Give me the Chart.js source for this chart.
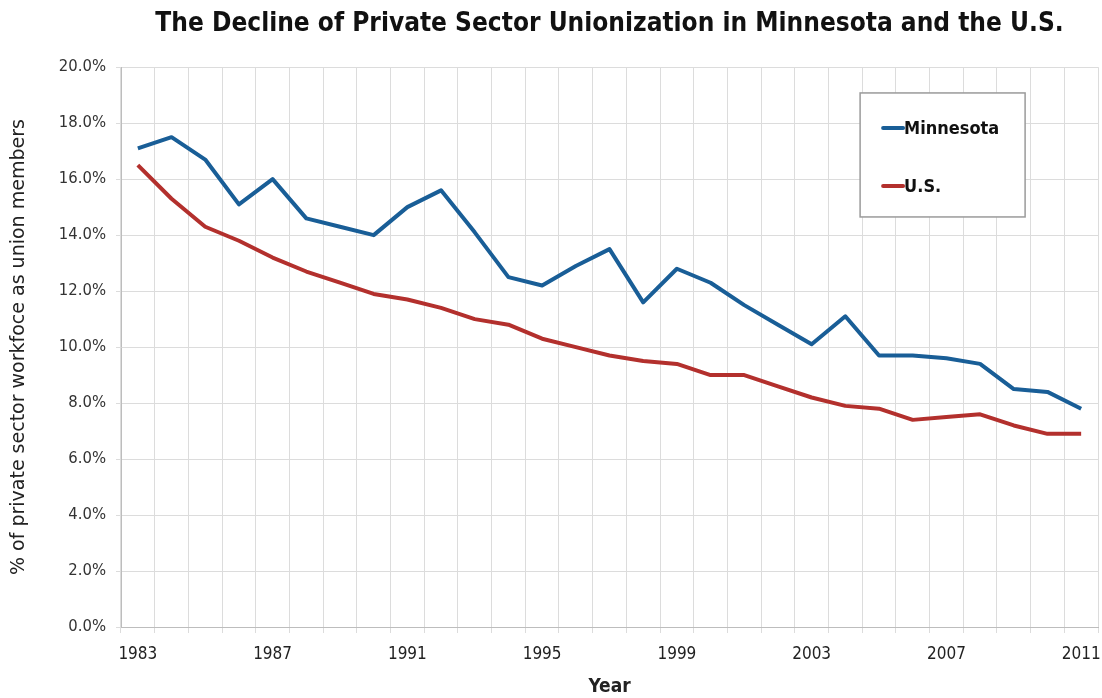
<!DOCTYPE html>
<html>
<head>
<meta charset="utf-8">
<script src="https://cdn.jsdelivr.net/npm/chart.js@4"></script>
<style>
  html, body { margin: 0; padding: 0; background: #fff; }
  #wrap { width: 1102px; height: 698px; }
</style>
</head>
<body>
<div id="wrap"><canvas id="unionChart"></canvas></div>
<script>
'use strict';

const years = ['1983', '1984', '1985', '1986', '1987', '1988', '1989', '1990', '1991', '1992',
	'1993', '1994', '1995', '1996', '1997', '1998', '1999', '2000', '2001', '2002',
	'2003', '2004', '2005', '2006', '2007', '2008', '2009', '2010', '2011'];
const minnesota = [17.1, 17.5, 16.7, 15.1, 16.0, 14.6, 14.3, 14.0, 15.0, 15.6,
	14.1, 12.5, 12.2, 12.9, 13.5, 11.6, 12.8, 12.3, 11.5, 10.8,
	10.1, 11.1, 9.7, 9.7, 9.6, 9.4, 8.5, 8.4, 7.8];
const us = [16.5, 15.3, 14.3, 13.8, 13.2, 12.7, 12.3, 11.9, 11.7, 11.4,
	11.0, 10.8, 10.3, 10.0, 9.7, 9.5, 9.4, 9.0, 9.0, 8.6,
	8.2, 7.9, 7.8, 7.4, 7.5, 7.6, 7.2, 6.9, 6.9];

const FONT = "'DejaVu Sans Condensed', 'DejaVu Sans', sans-serif";
const WIDE = "'DejaVu Sans', sans-serif";

// legend drawn inside the plot, as a framed box top right
const boxLegend = {
	id: 'boxLegend',
	afterDatasetsDraw(chart) {
		const { ctx, chartArea: a } = chart;
		const w = a.right - a.left;
		const h = a.bottom - a.top;
		const x = a.left + w * 0.7565;
		const y = a.top + h * 0.046;
		ctx.save();
		ctx.fillStyle = '#fff';
		ctx.fillRect(x, y, 165, 124);
		ctx.strokeStyle = '#9a9a9a';
		ctx.lineWidth = 1.5;
		ctx.strokeRect(x, y, 165, 124);
		ctx.font = 'bold 18px ' + FONT;
		ctx.textBaseline = 'middle';
		chart.data.datasets.forEach((ds, i) => {
			const ly = y + 35 + i * 58;
			ctx.strokeStyle = ds.borderColor;
			ctx.lineWidth = 4;
			ctx.lineCap = 'round';
			ctx.beginPath();
			ctx.moveTo(x + 23, ly);
			ctx.lineTo(x + 43, ly);
			ctx.stroke();
			ctx.fillStyle = '#111';
			ctx.fillText(ds.label, x + 44, ly + 1);
		});
		ctx.restore();
	}
};

new Chart(document.getElementById('unionChart'), {
	type: 'line',
	data: {
		labels: years,
		datasets: [
			{
				label: 'Minnesota',
				data: minnesota,
				borderColor: '#195e97',
				backgroundColor: '#195e97',
				borderWidth: 4,
				pointRadius: 0,
				tension: 0,
				borderJoinStyle: 'round',
			},
			{
				label: 'U.S.',
				data: us,
				borderColor: '#b3302d',
				backgroundColor: '#b3302d',
				borderWidth: 4,
				pointRadius: 0,
				tension: 0,
				borderJoinStyle: 'round',
			},
		],
	},
	options: {
		responsive: true,
		maintainAspectRatio: false,
		animation: false,
		layout: { padding: { left: 0, right: 4, top: 0, bottom: 0 } },
		plugins: {
			legend: { display: false },
			tooltip: { enabled: false },
			title: {
				display: true,
				text: 'The Decline of Private Sector Unionization in Minnesota and the U.S.',
				fullSize: false,
				color: '#111',
				font: { family: FONT, size: 26, weight: 'bold' },
				padding: { top: 9, bottom: 27 },
			},
		},
		scales: {
			x: {
				offset: true,
				grid: { offset: true, color: '#dcdcdc', lineWidth: 1, tickLength: 6, drawTicks: true },
				border: { color: '#bdbdbd' },
				ticks: {
					autoSkip: false,
					maxRotation: 0,
					padding: 11,
					color: '#222',
					font: { family: FONT, size: 17 },
					callback: function (value, index) {
						return index % 4 === 0 ? this.getLabelForValue(value) : '';
					},
				},
				title: {
					display: true,
					text: 'Year',
					color: '#222',
					font: { family: FONT, size: 19, weight: 'bold' },
					padding: { top: 0, bottom: 0 },
				},
				afterFit: (scale) => {
					scale.height = 71;
					scale.paddingLeft = 0;
					scale.paddingRight = 0;
				},
			},
			y: {
				min: 0,
				max: 20,
				grid: { color: '#dcdcdc', lineWidth: 1, tickLength: 5 },
				border: { color: '#bdbdbd' },
				ticks: {
					stepSize: 2,
					padding: 10,
					color: '#333',
					font: { family: FONT, size: 16.5 },
					callback: (v) => v.toFixed(1) + '%',
				},
				title: {
					display: true,
					text: '% of private sector workfoce as union members',
					color: '#222',
					font: { family: WIDE, size: 19 },
					padding: { top: 8, bottom: 0 },
				},
				afterFit: (scale) => { scale.width = 121; },
			},
		},
	},
	plugins: [boxLegend],
});
</script>
</body>
</html>
